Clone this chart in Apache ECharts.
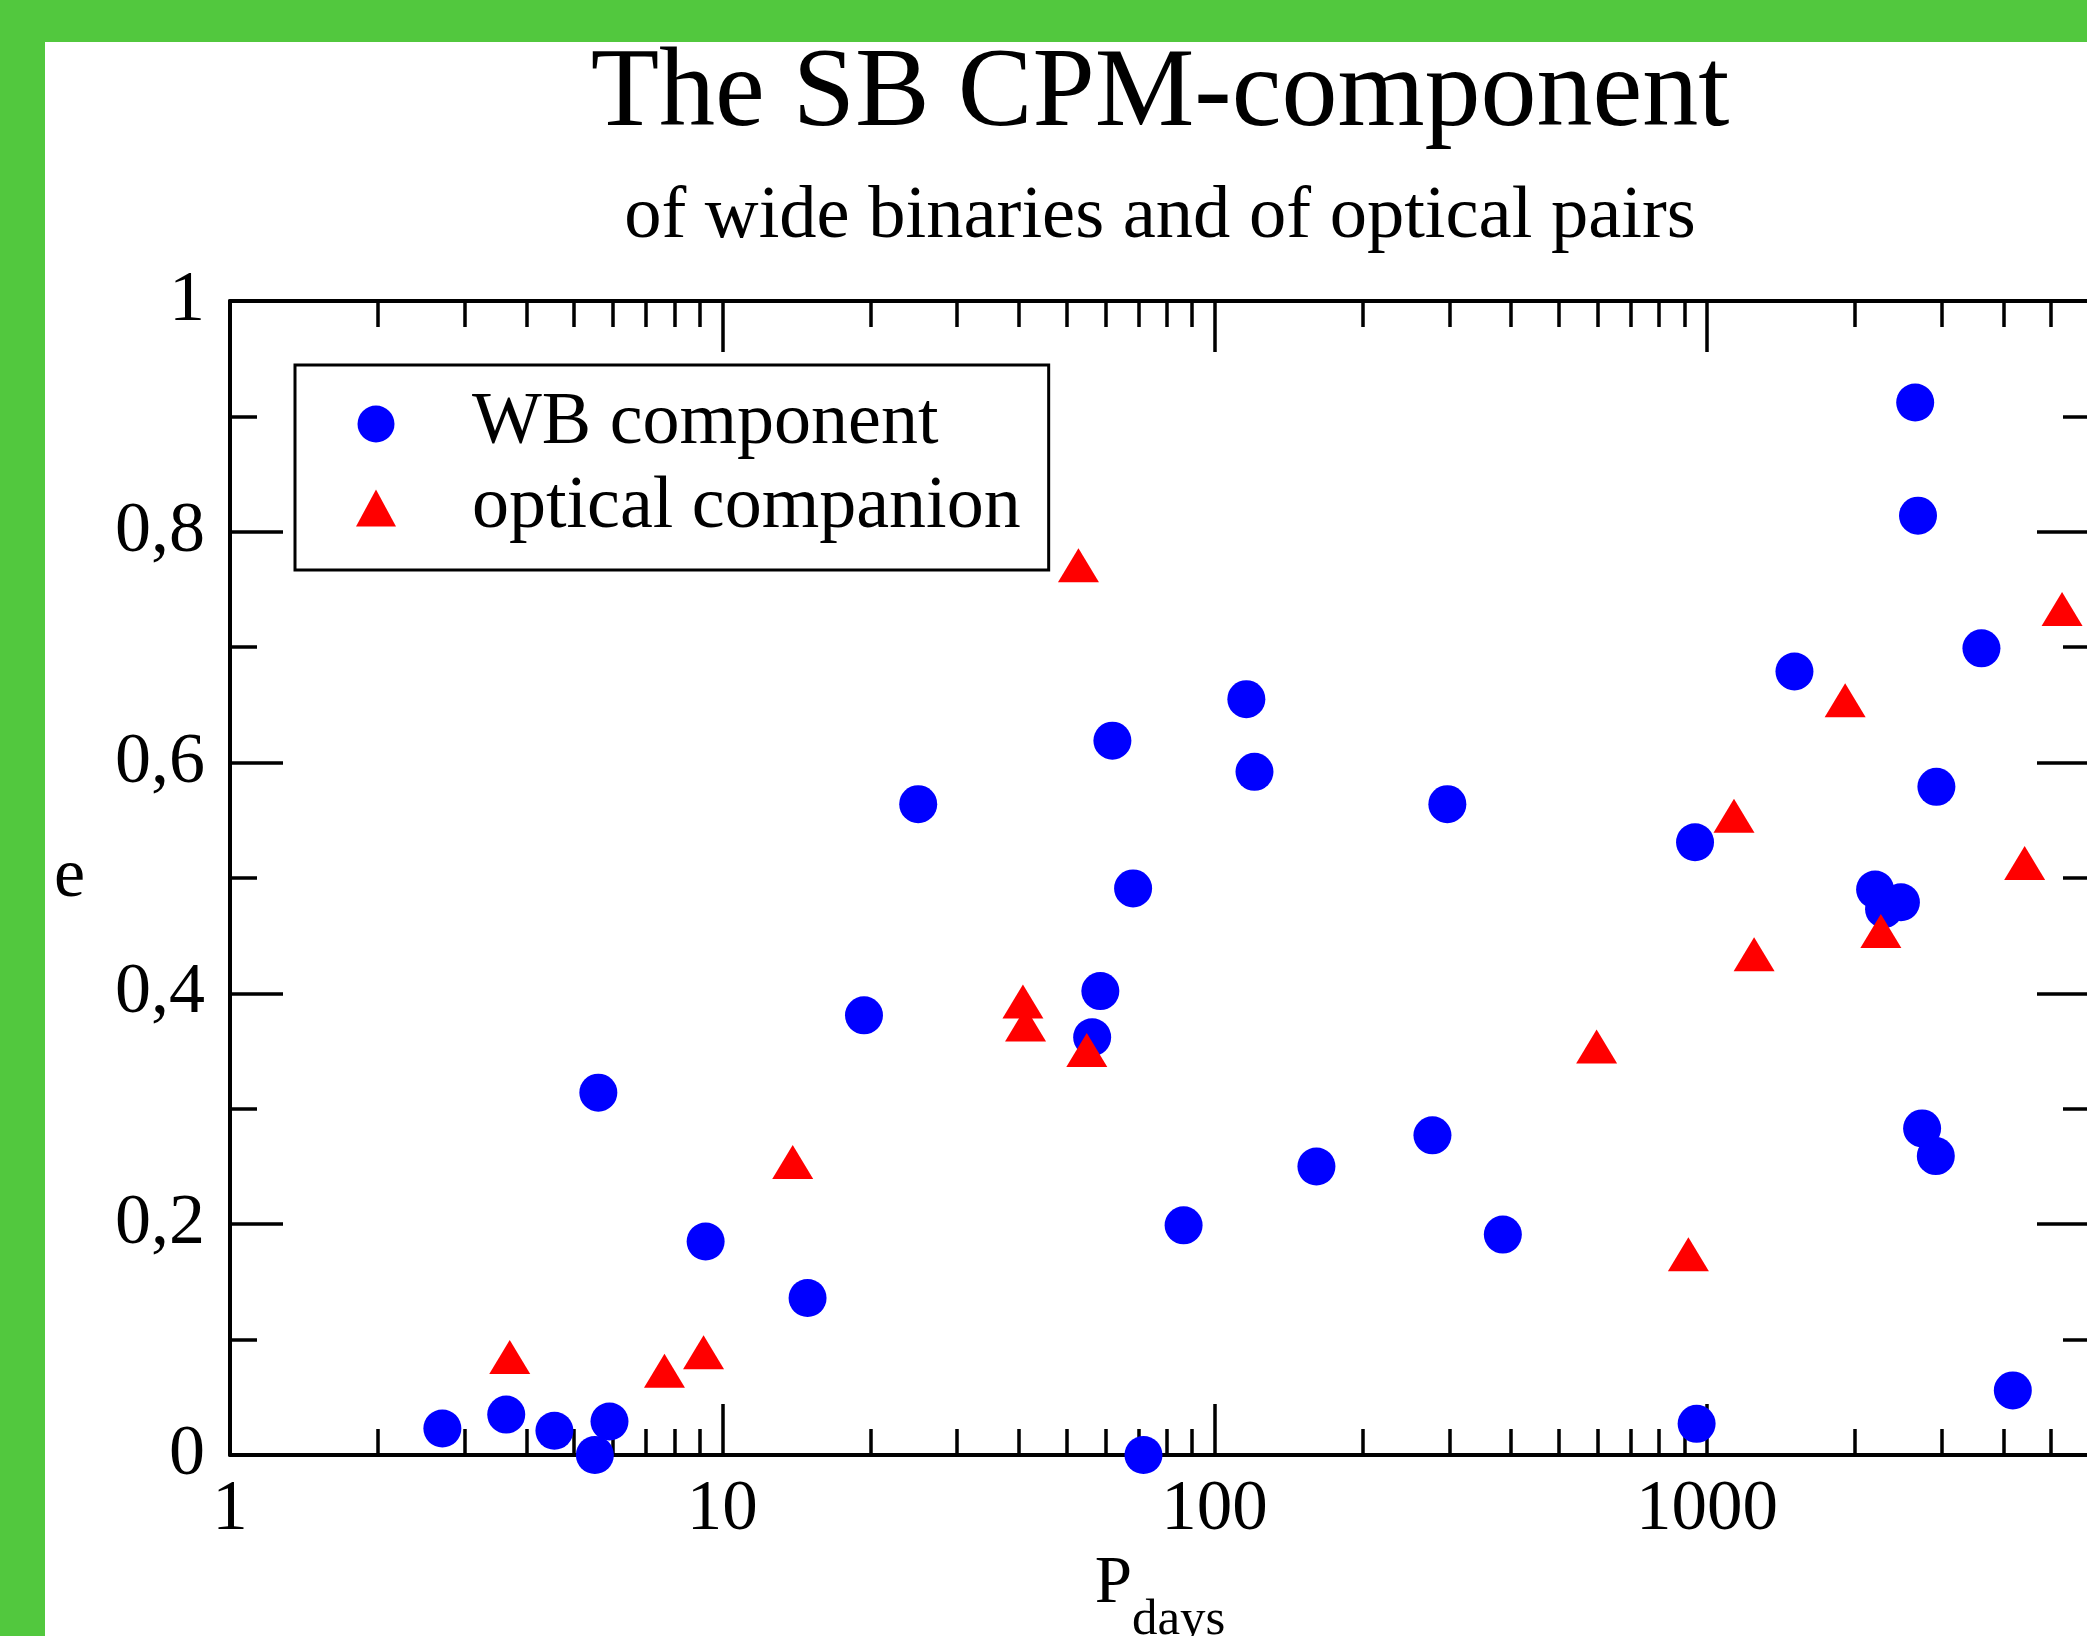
<!DOCTYPE html>
<html>
<head>
<meta charset="utf-8">
<script src="https://cdn.jsdelivr.net/npm/echarts@6/dist/echarts.min.js"></script>
<style>
html,body{margin:0;padding:0;overflow:hidden;background:#52c83e;width:2087px;height:1636px;}
#bg{position:absolute;left:45px;top:42px;width:3000px;height:3000px;background:#fff;}
#chart{position:absolute;left:0;top:0;width:2320px;height:1636px;}
</style>
</head>
<body>
<div id="bg"></div>
<div id="chart"></div>
<script>
// ---- data ----
const titleText = 'The SB CPM-component';
const subtitleText = 'of wide binaries and of optical pairs';
const seriesNames = ['WB component', 'optical companion'];

// WB component: period (days), eccentricity
const wbPeriod = [2.70, 3.64, 4.56, 5.51, 5.90, 5.60, 9.25, 14.9, 19.4, 25.0, 56.4, 58.6, 62.0, 68.3, 71.7, 86.5, 116, 120.5, 161, 277, 297, 385, 946, 953, 1506, 2649, 2684, 2925, 2196, 2290, 2478, 2736, 2917, 3611, 4182];
const wbEcc    = [0.023, 0.035, 0.021, 0.0, 0.029, 0.314, 0.185, 0.136, 0.381, 0.564, 0.362, 0.402, 0.619, 0.491, 0.0, 0.199, 0.655, 0.592, 0.250, 0.277, 0.564, 0.191, 0.531, 0.027, 0.679, 0.912, 0.814, 0.579, 0.490, 0.473, 0.479, 0.283, 0.259, 0.699, 0.056];

// optical companion
const ocPeriod = [3.70, 7.63, 9.16, 13.9, 40.8, 41.3, 52.9, 55.0, 597, 917, 1135, 1247, 1909, 2256, 4420, 5265];
const ocEcc    = [0.085, 0.073, 0.089, 0.254, 0.393, 0.373, 0.771, 0.351, 0.354, 0.174, 0.554, 0.434, 0.654, 0.454, 0.513, 0.733];

// axes
const xMin = 1, xMax = 6000;
const xMajorTicks = [1, 10, 100, 1000];
const xMinorTicks = [2,3,4,5,6,7,8,9,20,30,40,50,60,70,80,90,200,300,400,500,600,700,800,900,2000,3000,4000,5000];
const yMin = 0, yMax = 1, yInterval = 0.2;

const FONT = '"Liberation Serif", "DejaVu Serif", serif';

const wbData = wbPeriod.map((p, i) => [p, wbEcc[i]]);
const ocData = ocPeriod.map((p, i) => [p, ocEcc[i]]);

const lineStyle = {color: '#000', width: 4};
const tickStyle = {color: '#000', width: 3.5};

function xAxisCfg(position, ticks, len, showLine, showLabel, name) {
  const cfg = {
    type: 'log', logBase: 10, min: xMin, max: xMax, position: position,
    axisLine: {show: showLine, onZero: false, lineStyle: lineStyle},
    axisTick: {show: true, inside: true, length: len, customValues: ticks, lineStyle: tickStyle},
    axisLabel: {show: showLabel, customValues: xMajorTicks, margin: 20,
      formatter: v => String(Math.round(v)),
      fontFamily: FONT, fontSize: 71, color: '#000'},
    splitLine: {show: false}, minorTick: {show: false}, minorSplitLine: {show: false}
  };
  if (name) {
    cfg.name = '{p|P}{s|days}';
    cfg.nameLocation = 'middle';
    cfg.nameGap = 66;
    cfg.nameTextStyle = {
      fontFamily: FONT, color: '#000',
      rich: {
        p: {fontFamily: FONT, fontSize: 67, lineHeight: 124, color: '#000'},
        s: {fontFamily: FONT, fontSize: 51, lineHeight: 23, verticalAlign: 'bottom', color: '#000'}
      }
    };
  }
  return cfg;
}

function yAxisCfg(position, showLabel, name) {
  const cfg = {
    type: 'value', min: yMin, max: yMax, interval: yInterval, position: position,
    axisLine: {show: true, onZero: false, lineStyle: lineStyle},
    axisTick: {show: true, inside: true, length: 53, lineStyle: tickStyle},
    minorTick: {show: true, splitNumber: 2, length: 27, lineStyle: tickStyle},
    axisLabel: {show: showLabel, margin: 25, fontFamily: FONT, fontSize: 72, color: '#000',
      formatter: v => String(Math.round(v * 10) / 10).replace('.', ',')},
    splitLine: {show: false}
  };
  if (name) {
    cfg.name = name;
    cfg.nameLocation = 'middle';
    cfg.nameRotate = 0;
    cfg.nameGap = 145;
    cfg.nameTextStyle = {fontFamily: FONT, fontSize: 70, color: '#000'};
  }
  return cfg;
}

const chart = echarts.init(document.getElementById('chart'), null, {renderer: 'canvas'});
chart.setOption({
  backgroundColor: 'transparent',
  animation: false,
  title: [
    {text: titleText, left: 'center', top: 40, padding: 0,
     textStyle: {fontFamily: FONT, fontSize: 112, lineHeight: 112, fontWeight: 'normal', color: '#000'}},
    {text: subtitleText, left: 'center', top: 180, padding: 0,
     textStyle: {fontFamily: FONT, fontSize: 74.5, lineHeight: 75, fontWeight: 'normal', color: '#000'}}
  ],
  legend: {
    orient: 'vertical', left: 295, top: 365,
    data: seriesNames,
    borderColor: '#000', borderWidth: 3, borderRadius: 0,
    padding: [22, 28, 25, 61],
    itemGap: 10, itemWidth: 40, itemHeight: 37, symbolKeepAspect: false,
    textStyle: {fontFamily: FONT, fontSize: 74, lineHeight: 60, color: '#000', padding: [0, 0, 14, 71]}
  },
  grid: {left: 230, right: 230, top: 301, bottom: 181, containLabel: false, outerBoundsMode: 'none'},
  xAxis: [
    xAxisCfg('bottom', xMajorTicks, 51, true, true, true),
    xAxisCfg('bottom', xMinorTicks, 26, false, false, false),
    xAxisCfg('top', xMajorTicks, 51, true, false, false),
    xAxisCfg('top', xMinorTicks, 26, false, false, false)
  ],
  yAxis: [
    yAxisCfg('left', true, 'e'),
    yAxisCfg('right', false, null)
  ],
  series: [
    {name: seriesNames[0], type: 'scatter', xAxisIndex: 0, yAxisIndex: 0, data: wbData,
     symbol: 'circle', symbolSize: 38, itemStyle: {color: '#0000ff', opacity: 1}, z: 3},
    {name: seriesNames[1], type: 'scatter', xAxisIndex: 0, yAxisIndex: 0, data: ocData,
     symbol: 'triangle', symbolSize: [41, 34], itemStyle: {color: '#ff0000', opacity: 1}, z: 4}
  ]
});
</script>
</body>
</html>
